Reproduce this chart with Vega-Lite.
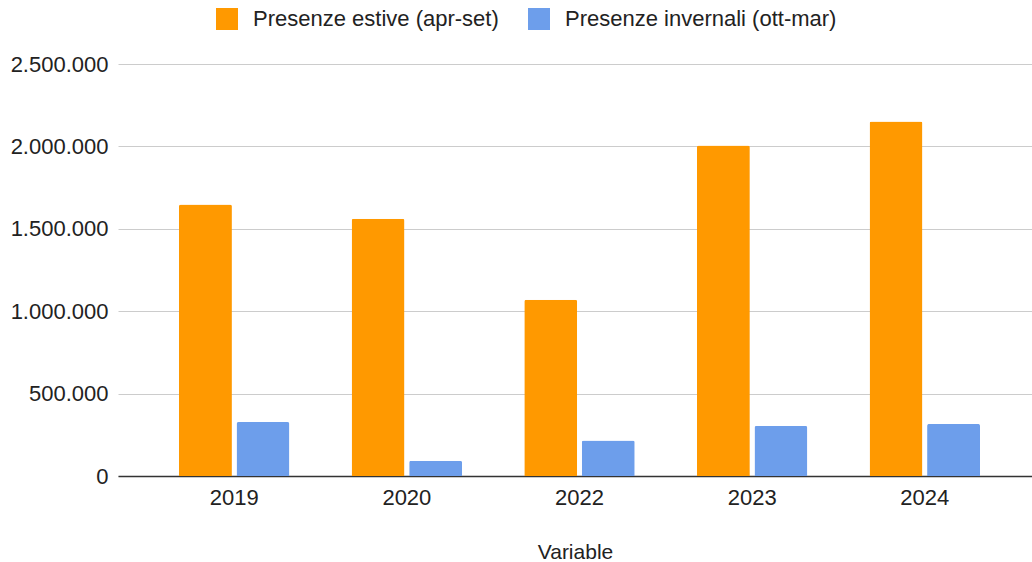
{
  "$schema": "https://vega.github.io/schema/vega-lite/v6.json",
  "autosize": {"type": "none"},
  "padding": {"left": 118, "top": 64, "right": 0, "bottom": 86},
  "width": 914,
  "height": 412,
  "background": "white",
  "data": {
    "values": [
      {"Anno": "2019", "Serie": "Presenze estive (apr-set)", "Presenze": 1648000},
      {"Anno": "2019", "Serie": "Presenze invernali (ott-mar)", "Presenze": 327000},
      {"Anno": "2020", "Serie": "Presenze estive (apr-set)", "Presenze": 1561000},
      {"Anno": "2020", "Serie": "Presenze invernali (ott-mar)", "Presenze": 93000},
      {"Anno": "2022", "Serie": "Presenze estive (apr-set)", "Presenze": 1070000},
      {"Anno": "2022", "Serie": "Presenze invernali (ott-mar)", "Presenze": 215000},
      {"Anno": "2023", "Serie": "Presenze estive (apr-set)", "Presenze": 2005000},
      {"Anno": "2023", "Serie": "Presenze invernali (ott-mar)", "Presenze": 304000},
      {"Anno": "2024", "Serie": "Presenze estive (apr-set)", "Presenze": 2151000},
      {"Anno": "2024", "Serie": "Presenze invernali (ott-mar)", "Presenze": 316000}
    ]
  },
  "mark": {"type": "bar", "cornerRadiusTopLeft": 2, "cornerRadiusTopRight": 2},
  "encoding": {
    "x": {
      "field": "Anno",
      "type": "nominal",
      "scale": {"paddingInner": 0.36, "paddingOuter": 0.327, "align": 0.54},
      "axis": {
        "title": "Variable",
        "labelAngle": 0,
        "ticks": false,
        "labelPadding": 11,
        "titlePadding": 33,
        "domainColor": "#333333",
        "domainWidth": 1.5
      }
    },
    "xOffset": {
      "field": "Serie",
      "scale": {"paddingInner": 0.08, "paddingOuter": 0}
    },
    "y": {
      "field": "Presenze",
      "type": "quantitative",
      "scale": {"domain": [0, 2500000], "nice": false},
      "axis": {
        "title": null,
        "values": [0, 500000, 1000000, 1500000, 2000000, 2500000],
        "format": ",d",
        "domain": false,
        "ticks": false,
        "labelPadding": 10,
        "gridColor": "#cccccc",
        "gridWidth": 1
      }
    },
    "color": {
      "field": "Serie",
      "type": "nominal",
      "scale": {
        "domain": ["Presenze estive (apr-set)", "Presenze invernali (ott-mar)"],
        "range": ["#ff9900", "#6d9eeb"]
      },
      "legend": {
        "title": null,
        "orient": "none",
        "direction": "horizontal",
        "legendX": 98,
        "legendY": -56,
        "symbolType": "square",
        "symbolSize": 484,
        "symbolStrokeWidth": 0,
        "symbolOpacity": 1,
        "labelOffset": 15,
        "labelLimit": 400,
        "columnPadding": 29,
        "labelFontSize": 22,
        "labelColor": "#222222",
        "labelFont": "Liberation Sans"
      }
    }
  },
  "config": {
    "locale": {
      "number": {"decimal": ",", "thousands": ".", "grouping": [3], "currency": ["€", ""]}
    },
    "view": {"stroke": null},
    "font": "Liberation Sans",
    "axis": {
      "labelFont": "Liberation Sans",
      "labelFontSize": 22,
      "labelColor": "#222222",
      "titleFont": "Liberation Sans",
      "titleFontSize": 21,
      "titleFontWeight": "normal",
      "titleColor": "#222222"
    }
  }
}
